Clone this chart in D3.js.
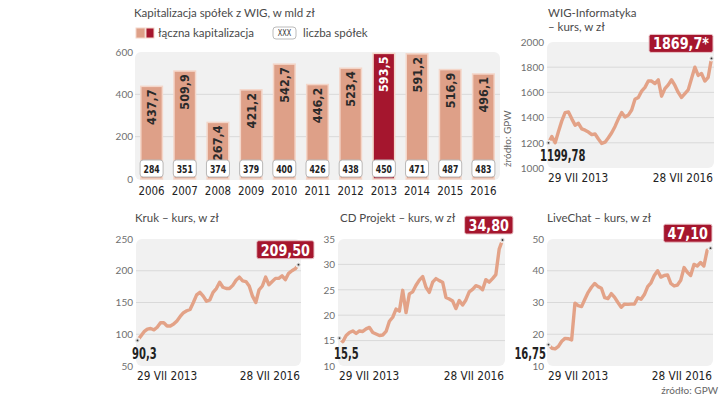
<!DOCTYPE html>
<html><head><meta charset="utf-8">
<script src="https://cdn.jsdelivr.net/npm/d3@7"></script>
<style>
html,body{margin:0;padding:0;background:#fff;}
svg{display:block;}
.lt{font-family:Lato,"Open Sans",sans-serif;}
.cd{font-family:"DejaVu Sans Condensed","DejaVu Sans",sans-serif;font-stretch:condensed;}
</style></head>
<body><svg id="c" width="720" height="397"></svg>
<script>
// ---------- DATA ----------
const years = ["2006","2007","2008","2009","2010","2011","2012","2013","2014","2015","2016"];
const capitalization = [437.7,509.9,267.4,421.2,542.7,446.2,523.4,593.5,591.2,516.9,496.1];
const companyCount = [284,351,374,379,400,426,438,450,471,487,483];
const capTicks = [0,200,400,600];
const highlightYear = "2013";

const wigInfo = [1199.78,1250,1200,1290,1374,1440,1445,1390,1340,1355,1310,1300,1285,1265,1270,1230,1195,1205,1240,1280,1330,1390,1440,1405,1420,1460,1545,1560,1610,1640,1690,1690,1670,1700,1570,1630,1660,1700,1655,1600,1560,1590,1620,1710,1800,1735,1750,1690,1720,1869.7];
const wigTicks = [1000,1200,1400,1600,1800,2000];

const kruk = [90.3,97,104,108,109,107,111,118,118,113,113,116,121,128,134,137,139,150,162,166,160,152,154,166,172,182,174,172,172,177,185,190,184,183,176,160,150,170,176,190,178,183,188,188,192,186,196,200,203,209.5];
const krukTicks = [50,100,150,200,250];

const cdProjekt = [15.5,14.8,16,16.6,16.9,16.4,16.9,16.8,17.3,17.6,16.6,16.3,16,16.1,16.8,18.8,19.6,21.2,20.8,24.9,20.5,24.2,24.6,25.9,26.9,27.6,25.5,24.5,26.5,27.2,26.8,26.5,23.5,23.2,22.8,21.3,22.9,22,23,24.6,25.1,25.8,25.6,25,27,26.5,27.2,28,33,34.8];
const cdTicks = [10,15,20,25,30,35];

const liveChat = [16.75,15.6,15.4,16.2,17.8,18.7,18.6,18.2,29.8,29,28.7,31,33.2,34.8,36,35,34.5,31.5,31.2,32.8,31.6,30,28.5,29.5,29.4,29.5,29.5,31.5,31,32.5,35,36.2,38.5,40,38,38.5,38.7,36,35.2,35.5,37,41,39.5,38.5,42,41.5,42.6,41.5,46.5,47.1];
const lcTicks = [10,20,30,40,50];

const dateLabels = ["29 VII 2013","28 VII 2016"];

// ---------- STYLE ----------
const C = {bar:"#dea088", barStroke:"#f4d6c9", red:"#a5162e", line:"#e3a287", panel:"#f1f1f1", grid:"#d9d9d9", tick:"#6f6f6f", text:"#222", title:"#4a4a4a"};
const fmt = v => String(v).replace(".",",");
const svg = d3.select("#c");
const TS = 11.5;
// horizontally condense real text to mimic a narrow typeface
function squeeze(sel, k){
  sel.each(function(){
    const w = this.getComputedTextLength();
    this.setAttribute("textLength", (w*k).toFixed(2));
    this.setAttribute("lengthAdjust","spacingAndGlyphs");
  });
  return sel;
}

// ---------- BAR CHART ----------
(function(){
  const g = svg.append("g");
  g.append("text").attr("class","lt").attr("x",134).attr("y",17).attr("font-size",TS).attr("fill",C.title)
    .text("Kapitalizacja spółek z WIG, w mld zł");
  g.append("rect").attr("x",136).attr("y",28).attr("width",9).attr("height",10).attr("fill",C.bar).attr("stroke",C.barStroke);
  g.append("rect").attr("x",146).attr("y",28).attr("width",8).attr("height",10).attr("fill",C.red).attr("stroke",C.barStroke);
  g.append("text").attr("class","lt").attr("x",158).attr("y",37).attr("font-size",TS).attr("fill",C.title).text("łączna kapitalizacja");
  g.append("rect").attr("x",273).attr("y",27).attr("width",23).attr("height",12).attr("rx",3).attr("fill","#fff").attr("stroke","#bbb");
  squeeze(g.append("text").attr("class","cd").attr("x",284.5).attr("y",36.3).attr("text-anchor","middle").attr("font-size",8.5).attr("fill","#333").text("XXX"),0.85);
  g.append("text").attr("class","lt").attr("x",303).attr("y",37).attr("font-size",TS).attr("fill",C.title).text("liczba spółek");

  const x = d3.scaleBand().domain(years).range([135,500]).paddingInner(0.35).paddingOuter(0.175);
  const y = d3.scaleLinear().domain([0,600]).range([179,52]);
  g.append("rect").attr("x",135).attr("y",y(600)).attr("width",365).attr("height",y(0)-y(600)+1).attr("rx",6).attr("fill",C.panel);
  g.selectAll(".gl").data(capTicks.filter(t=>t>0&&t<600)).join("line")
    .attr("x1",135).attr("x2",500).attr("y1",d=>y(d)).attr("y2",d=>y(d)).attr("stroke",C.grid);
  const ax = g.append("g").attr("transform","translate(135,0)")
    .call(d3.axisLeft(y).tickValues(capTicks).tickFormat(d3.format("d")).tickSize(0).tickPadding(2));
  ax.select(".domain").remove();
  ax.selectAll("text").attr("class","lt").attr("font-size",10).attr("fill",C.tick);

  const data = years.map((yr,i)=>({yr, v:capitalization[i], n:companyCount[i]}));
  g.selectAll(".bar").data(data).join("rect")
    .attr("x",d=>x(d.yr)).attr("width",x.bandwidth()).attr("y",d=>y(d.v)).attr("height",d=>y(0)-y(d.v))
    .attr("fill",d=>d.yr===highlightYear?C.red:C.bar).attr("stroke",C.barStroke).attr("stroke-width",1.5);
  g.selectAll(".bl").data(data).join("text").attr("class","cd")
    .attr("transform",d=>`translate(${x(d.yr)+x.bandwidth()/2+4.5},${y(d.v)+3}) rotate(-90)`)
    .attr("text-anchor","end").attr("font-size",12.5).attr("font-weight","bold")
    .attr("fill",d=>d.yr===highlightYear?"#fff":"#2a2a2a").text(d=>fmt(d.v));
  g.selectAll(".nb").data(data).join("rect")
    .attr("x",d=>x(d.yr)+x.bandwidth()/2-11.5).attr("y",160).attr("width",23).attr("height",17).attr("rx",3)
    .attr("fill","#fff").attr("stroke","#b9b9b9");
  squeeze(g.selectAll(".nt").data(data).join("text").attr("class","cd")
    .attr("x",d=>x(d.yr)+x.bandwidth()/2).attr("y",172.5).attr("text-anchor","middle")
    .attr("font-size",11).attr("font-weight","bold").attr("fill","#222").text(d=>d.n),0.78);
  squeeze(g.selectAll(".yr").data(data).join("text").attr("class","cd")
    .attr("x",d=>x(d.yr)+x.bandwidth()/2).attr("y",194.5).attr("text-anchor","middle")
    .attr("font-size",13).attr("fill",C.text).text(d=>d.yr),0.88);
  g.append("text").attr("class","lt").attr("transform","translate(511,167) rotate(-90)")
    .attr("font-size",10).attr("fill","#666").text("źródło: GPW");
})();

// ---------- LINE CHARTS ----------
function lineChart(o){
  const g = svg.append("g");
  o.titles.forEach((t,i)=>g.append("text").attr("class","lt").attr("x",o.tx).attr("y",o.ty+i*14)
    .attr("font-size",TS).attr("fill",C.title).text(t));
  const [x0,x1,yTop,yBot] = o.panel;
  const y = d3.scaleLinear().domain([o.ticks[0],o.ticks[o.ticks.length-1]]).range([yBot,yTop]);
  const x = d3.scaleLinear().domain([0,o.values.length-1]).range([x0+1.5,x1-2.5]);
  g.append("rect").attr("x",x0).attr("y",yTop).attr("width",x1-x0).attr("height",yBot-yTop).attr("rx",6).attr("fill",C.panel);
  g.selectAll(".gl").data(o.ticks.slice(1,-1)).join("line")
    .attr("x1",x0).attr("x2",x1).attr("y1",d=>y(d)).attr("y2",d=>y(d)).attr("stroke",C.grid);
  const ax = g.append("g").attr("transform",`translate(${x0},0)`)
    .call(d3.axisLeft(y).tickValues(o.ticks).tickFormat(d3.format("d")).tickSize(0).tickPadding(3));
  ax.select(".domain").remove();
  ax.selectAll("text").attr("class","lt").attr("font-size",10).attr("fill",C.tick);
  g.append("path").datum(o.values).attr("fill","none").attr("stroke",C.line).attr("stroke-width",3.4)
    .attr("stroke-linejoin","round").attr("d",d3.line().x((d,i)=>x(i)).y(d=>y(d)));
  const last = o.values.length-1;
  [[0,o.values[0]],[last,o.values[last]]].forEach(([i,v])=>{
    g.append("circle").attr("cx",x(i)).attr("cy",y(v)).attr("r",2.6).attr("fill","#d6d6d6").attr("stroke","#fff").attr("stroke-width",0.8);
    g.append("circle").attr("cx",x(i)).attr("cy",y(v)).attr("r",0.9).attr("fill","#333");
  });
  squeeze(g.append("text").attr("class","cd").attr("x",o.startX).attr("y",yBot-7).attr("text-anchor",o.startAnchor||"start")
    .attr("font-size",15).attr("font-weight","bold").attr("fill",C.text).text(o.startLabel),0.74);
  const bg = g.append("g");
  const br = bg.append("rect");
  const bt = squeeze(bg.append("text").attr("class","cd").attr("font-size",16.5).attr("font-weight","bold").attr("fill","#fff")
    .attr("text-anchor","end").text(o.endLabel),0.86);
  const bw = +bt.attr("textLength")+8;
  const bBot = y(o.values[last])-6;
  br.attr("x",o.boxRight-bw).attr("y",bBot-18).attr("width",bw).attr("height",18).attr("rx",2)
    .attr("fill",C.red).attr("stroke","#e9c3c7").attr("stroke-width",1);
  bt.attr("x",o.boxRight-4).attr("y",bBot-3);
  squeeze(g.append("text").attr("class","cd").attr("x",x0+1).attr("y",yBot+13.5).attr("font-size",13).attr("fill",C.text).text(dateLabels[0]),0.9);
  squeeze(g.append("text").attr("class","cd").attr("x",x1-1).attr("y",yBot+13.5).attr("text-anchor","end").attr("font-size",13).attr("fill",C.text).text(dateLabels[1]),0.9);
}

lineChart({titles:["WIG-Informatyka","– kurs, w zł"],tx:548,ty:17,values:wigInfo,ticks:wigTicks,panel:[547,714,42,168],
  startLabel:"1199,78",startX:540,endLabel:"1869,7*",boxRight:713});
lineChart({titles:["Kruk – kurs, w zł"],tx:135,ty:222,values:kruk,ticks:krukTicks,panel:[136,301,239,366],
  startLabel:"90,3",startX:132,endLabel:"209,50",boxRight:314});
lineChart({titles:["CD Projekt  – kurs, w zł"],tx:340,ty:222,values:cdProjekt,ticks:cdTicks,panel:[338,505,239,366],
  startLabel:"15,5",startX:334,endLabel:"34,80",boxRight:513});
lineChart({titles:["LiveChat  – kurs, w zł"],tx:547,ty:222,values:liveChat,ticks:lcTicks,panel:[547,713,239,366],
  startLabel:"16,75",startX:546,startAnchor:"end",endLabel:"47,10",boxRight:712});

svg.append("text").attr("class","lt").attr("x",718).attr("y",394).attr("text-anchor","end")
  .attr("font-size",10).attr("fill","#666").text("źródło: GPW");
</script></body></html>
